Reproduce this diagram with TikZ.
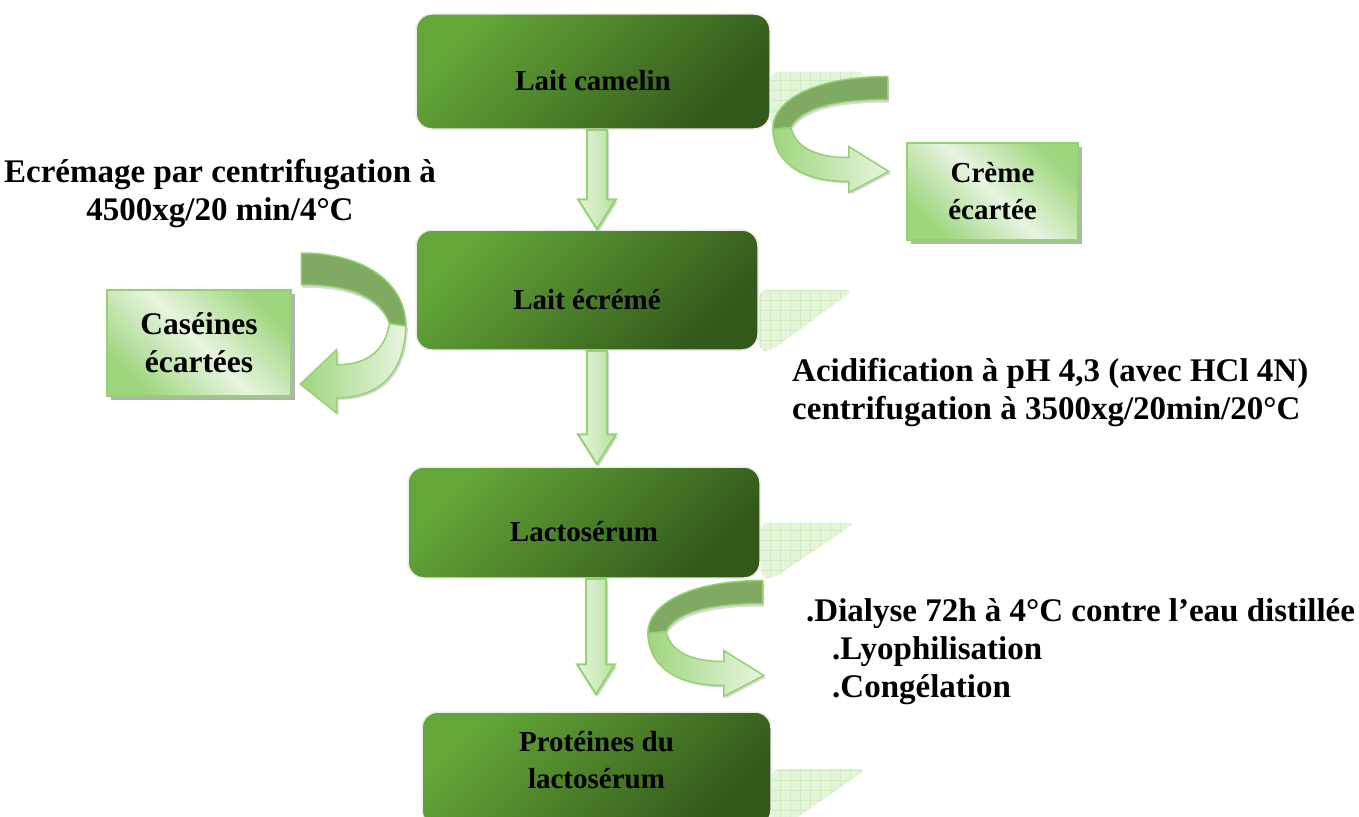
\documentclass[tikz,border=0pt]{standalone}
\usepackage{fontspec}
\setmainfont{Liberation Serif}
\usetikzlibrary{calc,shadows}

\definecolor{boxlight}{RGB}{100,166,56}
\definecolor{boxdark}{RGB}{50,88,26}
\definecolor{palegreen}{RGB}{232,244,224}
\definecolor{leafgreen}{RGB}{158,214,126}
\definecolor{rimgreen}{RGB}{146,210,112}
\definecolor{backgreen}{RGB}{128,170,98}
\definecolor{gridgreen}{RGB}{206,234,190}

% pale grid shadow to the right of a stage box
\newcommand{\boxshade}[1]{%
  \begin{scope}
    \clip[rounded corners=8pt] (#1.east) -- ++(95,0) -- ($(#1.south east)+(12,0)$) -- (#1.south east) -- cycle;
    \fill[gridgreen!55] ($(#1.east)+(-5,-5)$) rectangle ($(#1.south east)+(100,5)$);
    \draw[gridgreen, step=10pt] ($(#1.east)+(-5,-5)$) grid ($(#1.south east)+(100,5)$);
  \end{scope}}

% straight block arrow between two stages
\newcommand{\flowdown}[4]{%
  \draw[flowarrow] let \p1=(#1.south), \p2=(#2.north) in
    ({#3pt-10pt},\y1) -- ({#3pt+10pt},\y1) -- ({#3pt+10pt},{\y2+#4pt+30pt})
    -- ({#3pt+19pt},{\y2+#4pt+30pt}) -- ({#3pt},{\y2+#4pt})
    -- ({#3pt-19pt},{\y2+#4pt+30pt}) -- ({#3pt-10pt},{\y2+#4pt+30pt}) -- cycle;}

\tikzset{
  ribbon/.pic={
    % back of the curved arrow
    \draw[rimgreen, line width=1.5pt, fill=backgreen,
      drop shadow={shadow xshift=1pt, shadow yshift=-3pt, opacity=0.3}]
      (0,0) .. controls (-72,0) and (-115,23) .. (-115,53) -- (-97,51)
      .. controls (-87,33) and (-57,23) .. (0,23) -- cycle;
    % front with the head
    \draw[rimgreen, line width=1.5pt, left color=leafgreen, right color=palegreen,
      drop shadow={shadow xshift=2pt, shadow yshift=-2pt, opacity=0.3}]
      (-115,53) .. controls (-113,93) and (-77,105) .. (-39,105) -- (-39,116)
      -- (1,95) -- (-39,70) -- (-39,81) .. controls (-72,81) and (-92,71) .. (-97,51) -- cycle;
  }
}

\begin{document}
\begin{tikzpicture}[x=1pt, y=-1pt,
    font=\fontsize{29}{37}\selectfont\bfseries,
    stage/.style={rounded corners=16pt, draw=black!7, line width=1.5pt,
      top color=boxlight, bottom color=boxdark, shading angle=45, align=center,
      text height=38pt, text depth=0pt},
    waste/.style={draw=rimgreen, line width=2pt, align=center,
      top color=leafgreen, bottom color=leafgreen, middle color=palegreen, shading angle=-45,
      drop shadow={shadow xshift=4pt, shadow yshift=-4pt, fill=black!60, opacity=0.5}},
    note/.style={inner sep=0pt, font=\fontsize{33}{38}\selectfont\bfseries},
    flowarrow/.style={draw=rimgreen, line width=2pt, left color=palegreen, right color=leafgreen!75!white,
      drop shadow={shadow xshift=2pt, shadow yshift=-2pt, opacity=0.3}}]
  \useasboundingbox (0,0) rectangle (1359,816);

  \node[stage, minimum width=354pt, minimum height=115pt] (camelin) at (593,71.5) {Lait camelin};
  \node[stage, minimum width=342pt, minimum height=120pt] (ecreme) at (587,290) {Lait écrémé};
  \node[stage, minimum width=352pt, minimum height=111pt] (lacto) at (584,522.5) {Lactosérum};
  \node[stage, minimum width=349pt, minimum height=114pt, text height=57pt, text depth=19pt]
    (proteines) at (596.5,769) {Protéines du\\lactosérum};

  \boxshade{camelin}
  \boxshade{ecreme}
  \boxshade{lacto}
  \boxshade{proteines}

  \node[waste, minimum width=171pt, minimum height=97pt] (creme) at (992.5,191.5) {Crème\\écartée};
  \node[waste, minimum width=184pt, minimum height=106pt, font=\fontsize{31.5}{38}\selectfont\bfseries]
    (caseines) at (199,343) {Caséines\\écartées};

  \node[note, align=center] (ecremage) at (220,194) {Ecrémage par centrifugation à\\4500xg/20 min/4°C};
  \node[note, align=left, anchor=west] (acidif) at (792,393) {Acidification à pH 4,3 (avec HCl 4N)\\centrifugation à 3500xg/20min/20°C};
  \node[note, align=left, anchor=west] (dialyse) at (806,652) {.Dialyse 72h à 4°C contre l’eau distillée\\
    \hspace*{26pt}.Lyophilisation\\\hspace*{26pt}.Congélation};

  \flowdown{camelin}{ecreme}{597}{0}
  \flowdown{ecreme}{lacto}{597}{2}
  \flowdown{lacto}{proteines}{596}{17}

  \pic at ($(camelin.east)+(117,5)$) {ribbon};
  \pic[xscale=-0.91, yscale=1.38] at ($(ecreme.west)+(-114,-37)$) {ribbon};
  \pic at ($(lacto.east)+(2,58)$) {ribbon};
\end{tikzpicture}
\end{document}
